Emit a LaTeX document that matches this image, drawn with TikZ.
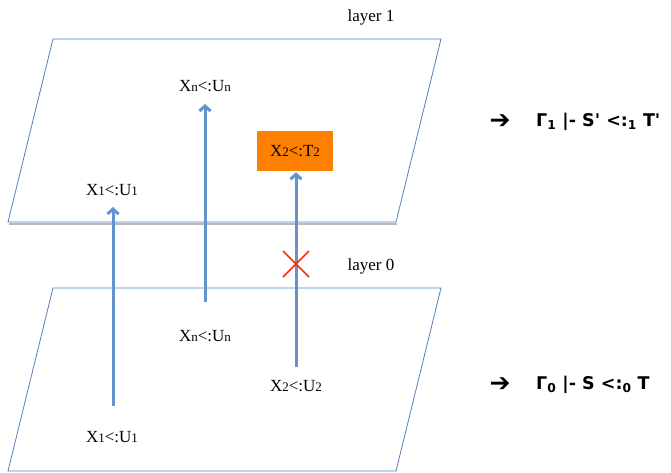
\documentclass[tikz,border=0pt]{standalone}
\usepackage{fontspec}
\setmainfont{Liberation Serif}
\newfontfamily\judgefont{DejaVu Sans}
\usetikzlibrary{arrows.meta,positioning}
\definecolor{planeblue}{RGB}{79,129,189}
\definecolor{arrowblue}{RGB}{98,148,203}
\definecolor{boxorange}{RGB}{255,128,0}
\definecolor{crossred}{RGB}{250,45,10}
\newcommand{\lo}[1]{\raisebox{-0.5pt}{\fontsize{13}{14}\selectfont #1}}
\tikzset{
  plane/.style={draw=planeblue,line width=0.8pt},
  lift/.style={draw=arrowblue,line width=3pt,-{Straight Barb[length=5pt,width=11pt]}},
  bound/.style={font=\fontsize{17}{19}\selectfont,inner sep=1pt},
  layername/.style={font=\fontsize{17}{19}\selectfont},
  judge/.style={font=\judgefont\bfseries\fontsize{17.5}{20}\selectfont,anchor=west,inner sep=0pt},
  hence/.style={font=\judgefont\bfseries\fontsize{25}{25}\selectfont,inner sep=0pt}
}
\begin{document}
\begin{tikzpicture}[x=1pt,y=-1pt]
  \useasboundingbox (0,0) rectangle (671,472);
  % the two layers
  \draw[gray!55,line width=2.2pt] (9,223.6) -- (397,223.6);
  \draw[plane,fill=white] (53,39) -- (441,39) -- (396,222) -- (8,222) -- cycle;
  \draw[plane] (53,288) -- (441,288) -- (396,471) -- (8,471) -- cycle;
  \node[layername] (lay1) at (371,17) {layer 1};
  \node[layername] (lay0) at (371,266) {layer 0};
  % bounds in layer 1
  \node[bound] (n1) at (205,86) {X\lo{n}<:U\lo{n}};
  \node[bound,fill=boxorange,minimum width=76pt,minimum height=40pt] (t2) at (295,151) {X\lo{2}<:T\lo{2}};
  \node[bound] (u1) at (112,190) {X\lo{1}<:U\lo{1}};
  % bounds in layer 0
  \node[bound] (n0) at (205,336) {X\lo{n}<:U\lo{n}};
  \node[bound] (u2) at (296,386) {X\lo{2}<:U\lo{2}};
  \node[bound] (u0) at (112,437) {X\lo{1}<:U\lo{1}};
  \coordinate (s1) at (113,406);
  \coordinate (sn) at (205,302);
  \coordinate (s2) at (296,367);
  % arrows between the layers
  \draw[lift,shorten >=10pt] (s1) -- (s1 |- u1.south);
  \draw[lift,shorten >=11pt] (sn) -- (sn |- n1.south);
  \draw[lift,shorten >=1pt] (s2) -- (s2 |- t2.south);
  % blocked
  \coordinate (x) at (296,264);
  \draw[crossred,line width=1.6pt] ([shift={(-13,-13)}]x) -- ([shift={(13,13)}]x)
    ([shift={(-13,13)}]x) -- ([shift={(13,-13)}]x);
  % judgements
  \node[hence] (a1) at (500,122) {➔};
  \node[judge] (j1) at (536,122) {Γ\textsubscript{1} |- S' <:\textsubscript{1} T'};
  \node[hence] (a0) at (500,385) {➔};
  \node[judge] (j0) at (536,385) {Γ\textsubscript{0} |- S <:\textsubscript{0} T};
\end{tikzpicture}
\end{document}
